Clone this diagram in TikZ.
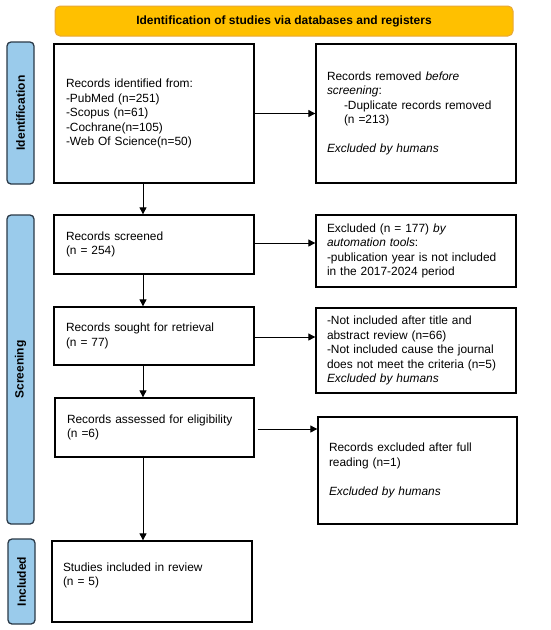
\documentclass[tikz,border=0pt]{standalone}
\usepackage{fontspec}
\setmainfont{Liberation Sans}
\usetikzlibrary{arrows.meta,calc}
\definecolor{bannerfill}{HTML}{FFC000}
\definecolor{bannerdraw}{HTML}{E8A838}
\definecolor{sidefill}{HTML}{9ACBEB}
\definecolor{sidedraw}{HTML}{2B3A48}
\begin{document}
\begin{tikzpicture}[x=1pt,y=-1pt,
  every node/.style={font=\fontsize{11.9}{14.5}\selectfont},
  box/.style={draw=black,line width=1.3pt,fill=white,inner xsep=12pt,inner ysep=0pt,align=left,anchor=center},
  rbox/.style={box,inner xsep=11pt},
  side/.style={draw=sidedraw,fill=sidefill,line width=1.3pt,rounded corners=4pt,rotate=90,
    font=\bfseries\fontsize{12}{13}\selectfont,inner sep=0pt,anchor=center},
  arr/.style={line width=0.9pt,-{Triangle[length=7pt,width=7pt]}}]
\useasboundingbox (0,0) rectangle (550,630);
\fill[white] (0,0) rectangle (550,630);
% banner
\node[draw=bannerdraw,fill=bannerfill,line width=1pt,rounded corners=5pt,minimum width=458pt,minimum height=30pt,
  font=\bfseries\fontsize{12}{13}\selectfont] (ban) at (284,21) {Identification of studies via databases and registers};
% side bars
\node[side,minimum width=142pt,minimum height=27pt] (s1) at (20.5,113) {Identification};
\node[side,minimum width=309pt,minimum height=27pt] (s2) at (20.5,369.5) {Screening};
\node[side,minimum width=85pt,minimum height=27pt] (s3) at (21.5,581.5) {Included};
% left boxes
\node[box,text width=176pt,minimum height=139pt] (b1) at (154,113.5) {Records identified from:\\-PubMed (n=251)\\-Scopus (n=61)\\-Cochrane(n=105)\\-Web Of Science(n=50)};
\node[box,text width=176pt,minimum height=59pt] (b2) at (154,244.5) {Records screened\\(n = 254)};
\node[box,text width=176pt,minimum height=58pt] (b3) at (154,336) {Records sought for retrieval\\(n = 77)};
\node[box,text width=175pt,minimum height=59pt] (b4) at (154.5,427.5) {Records assessed for eligibility\\(n =6)};
\node[box,minimum height=81pt,inner xsep=11pt,text width=178pt] (b5) at (152,581.5) {Studies included in review\\(n = 5)\\\mbox{}};
% right boxes
\node[rbox,text width=178pt,minimum height=139pt] (r1) at (416,113.5) {Records removed \textit{before}\\\textit{screening}:\\\hspace*{17pt}-Duplicate records removed\\\hspace*{17pt}(n =213)\\\mbox{}\\\textit{Excluded by humans}};
\node[rbox,text width=178pt,minimum height=72pt] (r2) at (416,251) {Excluded (n = 177) \textit{by}\\\textit{automation tools}:\\-publication year is not included\\in the 2017-2024 period};
\node[rbox,text width=178pt,minimum height=85pt] (r3) at (416,350.5) {-Not included after title and\\abstract review (n=66)\\-Not included cause the journal\\does not meet the criteria (n=5)\\\textit{Excluded by humans}};
\node[rbox,text width=177pt,minimum height=107pt] (r4) at (417.5,470.5) {Records excluded after full\\reading (n=1)\\\mbox{}\\\textit{Excluded by humans}};
% arrows
\coordinate (ax) at (143,0);
\draw[arr] (b1.south -| ax) -- (b2.north -| ax);
\draw[arr] (b2.south -| ax) -- (b3.north -| ax);
\draw[arr] (b3.south -| ax) -- (b4.north -| ax);
\draw[arr] (b4.south -| ax) -- (b5.north -| ax);
\draw[arr] (b1.east) -- (b1.east -| r1.west);
\draw[arr] ($(b2.east)+(0,-1.5)$) -- ($(b2.east -| r2.west)+(0,-1.5)$);
\draw[arr] ($(b3.east)+(0,1)$) -- ($(b3.east -| r3.west)+(0,1)$);
\draw[arr] ($(b4.east)+(3,1.5)$) -- ($(b4.east -| r4.west)+(0,1.5)$);
\end{tikzpicture}
\end{document}
